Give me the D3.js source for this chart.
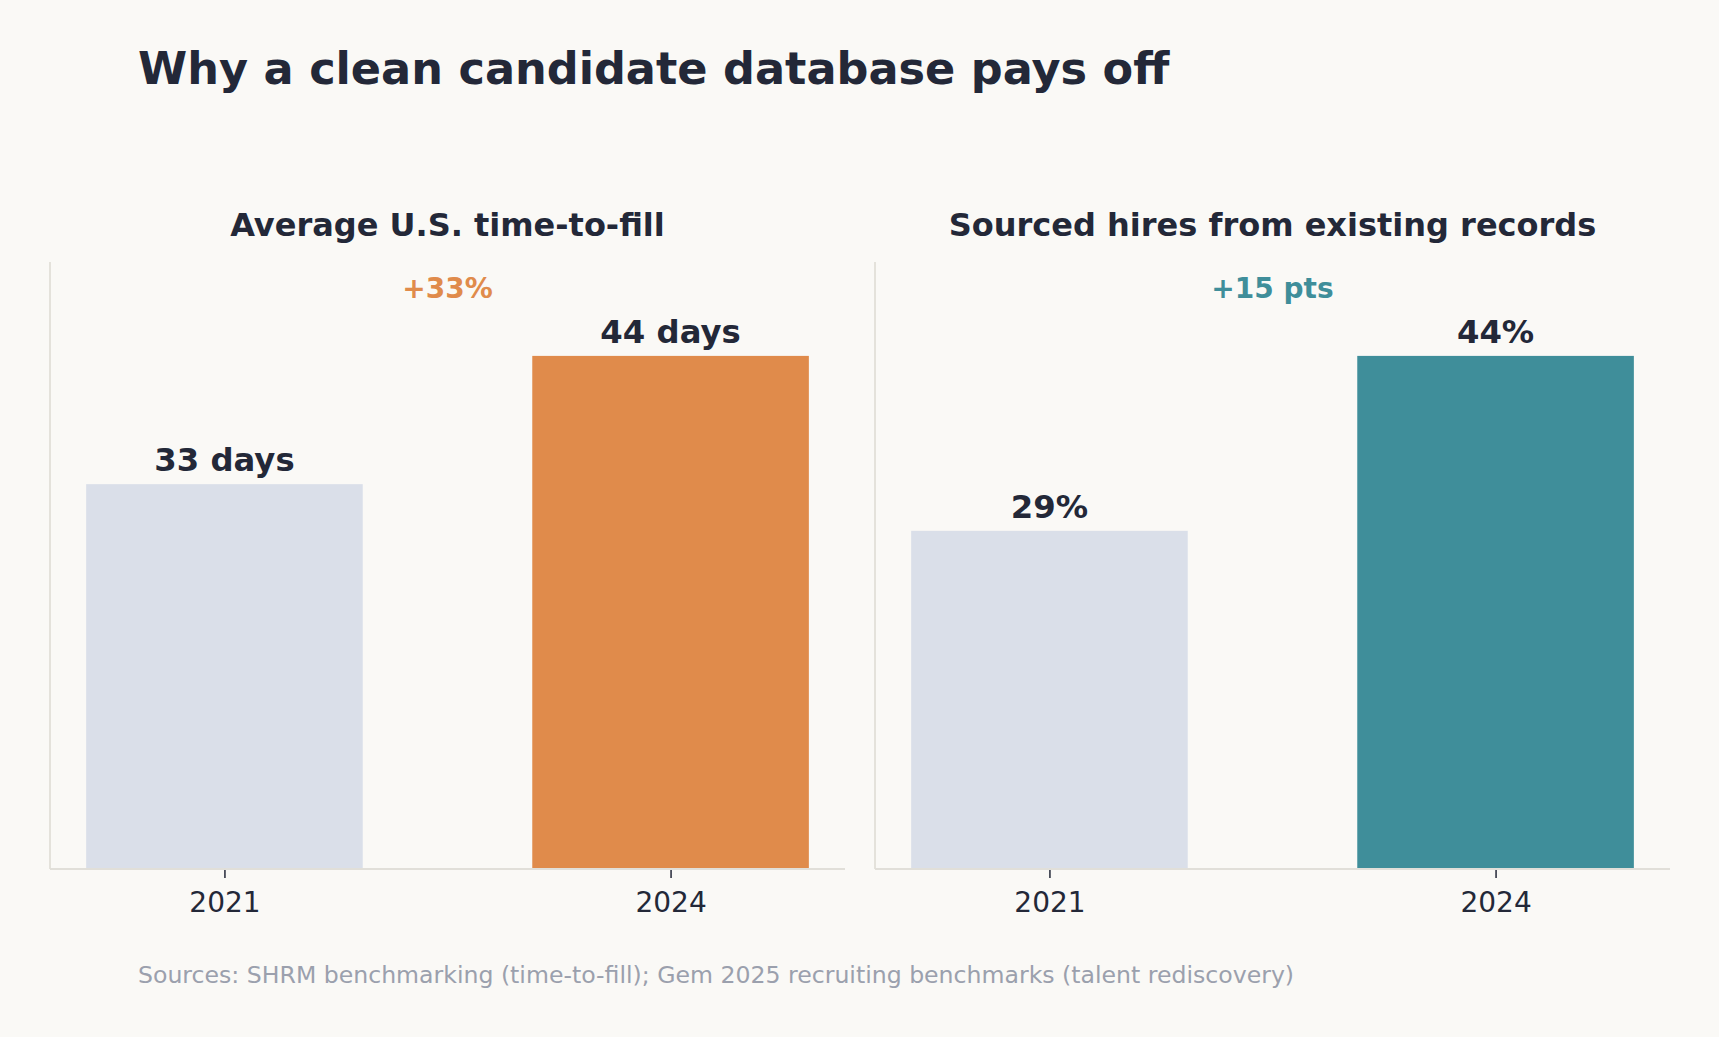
<!DOCTYPE html>
<html><head><meta charset="utf-8">
<script src="https://cdn.jsdelivr.net/npm/d3@7"></script>
<style>
html,body{margin:0;padding:0;background:#faf9f6;}
svg{display:block;font-family:"DejaVu Sans",sans-serif;}
</style></head><body>
<svg id="c" width="1719" height="1037"></svg>
<script>
const years = ["2021", "2024"];
const timeToFill = [33, 44];
const sourcedHires = [29, 44];
const panelTitles = ["Average U.S. time-to-fill", "Sourced hires from existing records"];
const valueLabels = [["33 days", "44 days"], ["29%", "44%"]];
const changeLabels = ["+33%", "+15 pts"];
const accentColors = ["#e08b4b", "#3f8e9a"];

const W = 1719, H = 1037;
const svg = d3.select("#c");
svg.append("rect").attr("width", W).attr("height", H).attr("fill", "#faf9f6");

const dark = "#232838";
svg.append("text").attr("x", 138).attr("y", 84)
  .attr("font-size", 44.6).attr("font-weight", "bold").attr("fill", dark)
  .text("Why a clean candidate database pays off");

const panels = [
  {x0: 50, x1: 845, values: timeToFill},
  {x0: 875, x1: 1670, values: sourcedHires}
];
const yTop = 262, yBot = 869;

panels.forEach((p, i) => {
  const g = svg.append("g");
  const x = d3.scaleLinear().domain([-0.391, 1.391]).range([p.x0, p.x1]);
  const ymax = d3.max(p.values) * 1.183;
  const y = d3.scaleLinear().domain([0, ymax]).range([yBot, yTop]);
  const bw = x(0.31) - x(-0.31);

  g.selectAll("rect.bar").data(p.values).join("rect")
    .attr("class", "bar")
    .attr("x", (d, j) => x(j) - bw / 2)
    .attr("width", bw)
    .attr("y", d => y(d))
    .attr("height", d => y(0) - y(d))
    .attr("fill", (d, j) => j === 0 ? "#dadfe9" : accentColors[i]);

  // spines
  g.append("line").attr("x1", p.x0).attr("x2", p.x0).attr("y1", yTop).attr("y2", yBot)
    .attr("stroke", "#e1dfd9").attr("stroke-width", 1.8);
  g.append("line").attr("x1", p.x0).attr("x2", p.x1).attr("y1", yBot).attr("y2", yBot)
    .attr("stroke", "#e1dfd9").attr("stroke-width", 2);

  // x axis
  const axis = d3.axisBottom(x).tickValues([0, 1]).tickFormat(j => years[j]).tickSize(8).tickPadding(10);
  const ax = g.append("g").attr("transform", `translate(0,${yBot + 1})`).call(axis);
  ax.select(".domain").remove();
  ax.selectAll(".tick line").attr("stroke", dark).attr("stroke-width", 1.5);
  ax.selectAll(".tick text").attr("font-size", 28).attr("fill", dark)
    .attr("font-family", "DejaVu Sans").attr("dy", null).attr("y", 42);

  // value labels
  g.selectAll("text.val").data(p.values).join("text")
    .attr("class", "val")
    .attr("x", (d, j) => x(j)).attr("y", d => y(d) - 13)
    .attr("text-anchor", "middle").attr("font-size", 32.3).attr("font-weight", "bold")
    .attr("fill", dark).text((d, j) => valueLabels[i][j]);

  // panel title
  const cx = (p.x0 + p.x1) / 2;
  g.append("text").attr("x", cx).attr("y", 236).attr("text-anchor", "middle")
    .attr("font-size", 32).attr("font-weight", "bold").attr("fill", dark)
    .text(panelTitles[i]);
  // change label
  g.append("text").attr("x", cx).attr("y", 298).attr("text-anchor", "middle")
    .attr("font-size", 28).attr("font-weight", "bold").attr("fill", accentColors[i])
    .text(changeLabels[i]);
});

svg.append("text").attr("x", 138).attr("y", 983)
  .attr("font-size", 23.6).attr("fill", "#9ba0ad")
  .text("Sources: SHRM benchmarking (time-to-fill); Gem 2025 recruiting benchmarks (talent rediscovery)");
</script>
</body></html>
